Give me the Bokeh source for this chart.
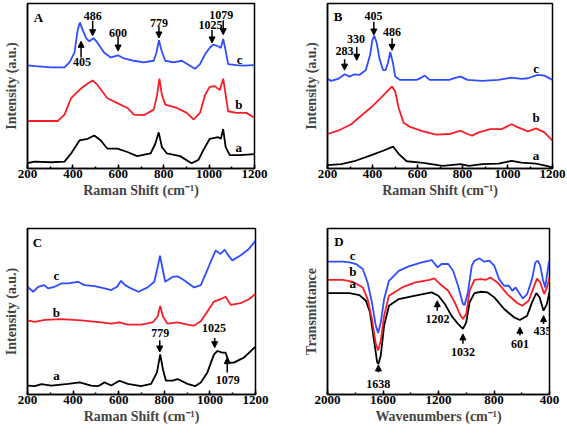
from bokeh.plotting import figure
from bokeh.layouts import column, row
from bokeh.models import Range1d, SingleIntervalTicker, FixedTicker, Arrow, NormalHead
from bokeh.core.properties import value
from bokeh.embed import file_html
from bokeh.resources import INLINE

BLUE = "#2f4cff"
RED = "#f81e28"
BLACK = "#000000"
FONT = "Liberation Serif"

# ---------------- Panel A (Raman) ----------------
A_c_x = [200, 232, 305, 363, 385, 407, 421, 431, 443, 458, 472, 491, 509, 538, 567, 599, 625, 669, 712, 756, 768, 779, 791, 807, 843, 880, 916, 938, 960, 982, 1003, 1018, 1040, 1052, 1062, 1072, 1084, 1120, 1149, 1200]
A_c_y = [0.625, 0.62, 0.613, 0.613, 0.643, 0.702, 0.84, 0.884, 0.84, 0.79, 0.771, 0.79, 0.761, 0.702, 0.673, 0.686, 0.667, 0.653, 0.643, 0.653, 0.702, 0.777, 0.712, 0.653, 0.643, 0.653, 0.623, 0.604, 0.633, 0.692, 0.732, 0.751, 0.741, 0.731, 0.785, 0.72, 0.633, 0.627, 0.623, 0.627]
A_b_x = [200, 305, 334, 363, 392, 436, 465, 487, 509, 552, 596, 640, 669, 712, 756, 771, 781, 792, 807, 858, 902, 931, 960, 982, 1003, 1025, 1047, 1062, 1073, 1084, 1120, 1164, 1200]
A_b_y = [0.288, 0.288, 0.288, 0.327, 0.426, 0.485, 0.515, 0.534, 0.505, 0.426, 0.396, 0.367, 0.327, 0.323, 0.357, 0.446, 0.544, 0.446, 0.387, 0.367, 0.337, 0.298, 0.337, 0.446, 0.495, 0.499, 0.475, 0.544, 0.446, 0.347, 0.337, 0.337, 0.308]
A_a_x = [200, 232, 305, 363, 392, 429, 465, 494, 523, 552, 596, 640, 683, 742, 763, 778, 792, 814, 872, 923, 953, 974, 1003, 1040, 1052, 1062, 1073, 1091, 1134, 1200]
A_a_y = [0.032, 0.042, 0.038, 0.042, 0.091, 0.17, 0.18, 0.2, 0.17, 0.12, 0.12, 0.1, 0.075, 0.091, 0.150, 0.219, 0.130, 0.091, 0.075, 0.032, 0.052, 0.11, 0.18, 0.19, 0.180, 0.239, 0.130, 0.081, 0.081, 0.087]
A_lab_text = ["486", "600", "779", "1025", "1079", "405"]
A_lab_x = [487, 599, 779, 1006, 1054, 440]
A_lab_y = [0.923, 0.824, 0.884, 0.870, 0.929, 0.647]
A_arr_x = [487, 599, 779, 1013, 1062, 436]
A_arr_y0 = [0.895, 0.797, 0.860, 0.840, 0.899, 0.673]
A_arr_y1 = [0.805, 0.712, 0.791, 0.761, 0.811, 0.771]
A_cur_text = ["c", "b", "a"]
A_cur_x = [1134, 1131, 1131]
A_cur_y = [0.663, 0.39, 0.13]

# ---------------- Panel B (Raman) ----------------
B_c_x = [200, 217, 247, 276, 298, 319, 341, 370, 389, 399, 408, 418, 431, 447, 458, 468, 479, 490, 501, 523, 596, 618, 632, 654, 741, 771, 792, 822, 887, 960, 1018, 1062, 1091, 1134, 1164, 1200]
B_c_y = [0.543, 0.531, 0.543, 0.571, 0.557, 0.571, 0.567, 0.596, 0.686, 0.775, 0.805, 0.765, 0.666, 0.596, 0.596, 0.636, 0.706, 0.646, 0.557, 0.537, 0.537, 0.551, 0.563, 0.537, 0.537, 0.551, 0.557, 0.537, 0.531, 0.537, 0.551, 0.543, 0.547, 0.567, 0.563, 0.537]
B_b_x = [200, 247, 305, 348, 392, 436, 465, 487, 501, 516, 538, 567, 625, 683, 741, 792, 822, 843, 872, 923, 974, 1018, 1047, 1091, 1127, 1164, 1200]
B_b_y = [0.209, 0.229, 0.268, 0.318, 0.368, 0.427, 0.467, 0.497, 0.467, 0.368, 0.278, 0.252, 0.225, 0.205, 0.209, 0.229, 0.209, 0.199, 0.219, 0.239, 0.239, 0.268, 0.249, 0.225, 0.243, 0.219, 0.169]
B_a_x = [200, 261, 319, 392, 450, 491, 516, 552, 625, 712, 792, 829, 887, 960, 1018, 1062, 1127, 1178, 1200]
B_a_y = [0.02, 0.026, 0.044, 0.08, 0.109, 0.133, 0.089, 0.044, 0.034, 0.016, 0.026, 0.016, 0.026, 0.030, 0.046, 0.036, 0.030, 0.014, 0.006]
B_lab_text = ["405", "486", "330", "283"]
B_lab_x = [404, 487, 327, 276]
B_lab_y = [0.924, 0.829, 0.785, 0.71]
B_arr_x = [406, 487, 330, 276]
B_arr_y0 = [0.889, 0.789, 0.736, 0.662]
B_arr_y1 = [0.809, 0.716, 0.656, 0.596]
B_cur_text = ["c", "b", "a"]
B_cur_x = [1127, 1127, 1127]
B_cur_y = [0.606, 0.308, 0.08]

# ---------------- Panel C (Raman) ----------------
C_c_x = [200, 225, 247, 273, 290, 319, 348, 378, 421, 450, 494, 538, 567, 593, 610, 628, 654, 686, 727, 756, 771, 781, 791, 804, 836, 858, 887, 931, 960, 982, 1003, 1025, 1047, 1065, 1076, 1098, 1134, 1171, 1200]
C_c_y = [0.649, 0.619, 0.649, 0.659, 0.639, 0.649, 0.669, 0.669, 0.679, 0.659, 0.653, 0.639, 0.629, 0.649, 0.685, 0.659, 0.639, 0.619, 0.645, 0.679, 0.768, 0.837, 0.768, 0.679, 0.708, 0.712, 0.688, 0.645, 0.659, 0.728, 0.798, 0.867, 0.847, 0.873, 0.847, 0.808, 0.837, 0.877, 0.927]
C_b_x = [200, 232, 276, 348, 436, 523, 567, 603, 640, 698, 749, 771, 782, 794, 814, 858, 902, 931, 960, 989, 1018, 1047, 1069, 1091, 1134, 1171, 1200]
C_b_y = [0.446, 0.438, 0.45, 0.454, 0.446, 0.435, 0.427, 0.435, 0.421, 0.421, 0.435, 0.470, 0.534, 0.470, 0.427, 0.435, 0.421, 0.415, 0.441, 0.5, 0.56, 0.574, 0.589, 0.54, 0.550, 0.574, 0.605]
C_a_x = [200, 232, 261, 305, 378, 429, 479, 509, 538, 567, 603, 640, 698, 742, 768, 782, 794, 807, 836, 858, 902, 935, 960, 989, 1018, 1033, 1054, 1069, 1084, 1105, 1149, 1200]
C_a_y = [0.054, 0.050, 0.062, 0.054, 0.064, 0.073, 0.054, 0.050, 0.073, 0.054, 0.083, 0.064, 0.050, 0.064, 0.133, 0.242, 0.152, 0.083, 0.083, 0.093, 0.064, 0.050, 0.073, 0.133, 0.242, 0.262, 0.252, 0.252, 0.192, 0.192, 0.222, 0.288]
C_lab_text = ["779", "1025", "1079"]
C_lab_x = [782, 1018, 1078]
C_lab_y = [0.371, 0.401, 0.087]
C_arr_x = [780, 1021, 1076]
C_arr_y0 = [0.327, 0.341, 0.133]
C_arr_y1 = [0.256, 0.282, 0.222]
C_cur_text = ["c", "b", "a"]
C_cur_x = [327, 327, 327]
C_cur_y = [0.718, 0.494, 0.113]

# ---------------- Panel D (FTIR) ----------------
D_c_x = [2000, 1889, 1841, 1794, 1746, 1711, 1680, 1652, 1635, 1616, 1592, 1557, 1486, 1415, 1320, 1249, 1206, 1178, 1130, 1095, 1059, 1024, 1012, 988, 960, 941, 905, 870, 834, 798, 763, 727, 692, 668, 644, 621, 592, 561, 526, 502, 485, 467, 448, 431, 419, 405, 400]
D_c_y = [0.8, 0.8, 0.796, 0.786, 0.756, 0.675, 0.555, 0.415, 0.371, 0.435, 0.575, 0.685, 0.745, 0.772, 0.796, 0.81, 0.766, 0.786, 0.786, 0.746, 0.655, 0.545, 0.539, 0.615, 0.776, 0.806, 0.82, 0.8, 0.806, 0.776, 0.695, 0.655, 0.655, 0.625, 0.645, 0.615, 0.579, 0.605, 0.695, 0.796, 0.806, 0.776, 0.695, 0.645, 0.715, 0.796, 0.806]
D_b_x = [2000, 1889, 1818, 1746, 1711, 1680, 1652, 1635, 1616, 1592, 1557, 1462, 1367, 1272, 1230, 1201, 1130, 1083, 1047, 1024, 1000, 976, 941, 893, 857, 827, 775, 704, 633, 597, 550, 514, 490, 467, 438, 419, 400]
D_b_y = [0.691, 0.691, 0.679, 0.645, 0.575, 0.455, 0.305, 0.265, 0.325, 0.475, 0.595, 0.645, 0.675, 0.689, 0.699, 0.675, 0.625, 0.555, 0.485, 0.455, 0.485, 0.625, 0.691, 0.695, 0.691, 0.705, 0.675, 0.605, 0.551, 0.535, 0.565, 0.645, 0.699, 0.675, 0.605, 0.645, 0.705]
D_a_x = [2000, 1841, 1770, 1723, 1694, 1663, 1642, 1633, 1616, 1592, 1557, 1486, 1367, 1249, 1201, 1154, 1107, 1059, 1024, 1000, 976, 941, 893, 846, 798, 727, 656, 613, 561, 526, 495, 471, 443, 419, 400]
D_a_y = [0.611, 0.611, 0.599, 0.565, 0.495, 0.315, 0.194, 0.184, 0.235, 0.415, 0.535, 0.575, 0.595, 0.615, 0.595, 0.545, 0.475, 0.425, 0.395, 0.435, 0.555, 0.611, 0.619, 0.615, 0.585, 0.515, 0.465, 0.449, 0.475, 0.555, 0.611, 0.585, 0.505, 0.545, 0.619]
D_lab_text = ["1638", "1202", "1032", "601", "435"]
D_lab_x = [1635, 1208, 1024, 613, 450]
D_lab_y = [0.064, 0.455, 0.255, 0.305, 0.385]
D_arr_x = [1633, 1209, 1024, 613, 443]
D_arr_y0 = [0.134, 0.505, 0.305, 0.355, 0.425]
D_arr_y1 = [0.178, 0.565, 0.365, 0.405, 0.475]
D_cur_text = ["c", "b", "a"]
D_cur_x = [1818, 1818, 1818]
D_cur_y = [0.84, 0.739, 0.669]


def make_panel(width, height, x_range, interval, xlabel, ylabel, ml, mr, mt, mb):
    p = figure(width=width, height=height, x_range=x_range, y_range=Range1d(0, 1),
               output_backend="svg", toolbar_location=None,
               min_border_left=ml, min_border_right=mr, min_border_top=mt, min_border_bottom=mb)
    p.grid.visible = False
    p.outline_line_color = "black"
    p.outline_line_width = 1.5
    p.background_fill_color = "white"
    p.border_fill_color = "white"
    xa = p.xaxis[0]
    xa.ticker = SingleIntervalTicker(interval=interval, num_minor_ticks=2)
    xa.major_tick_in = 4
    xa.major_tick_out = 0
    xa.minor_tick_in = 2
    xa.minor_tick_out = 0
    xa.major_tick_line_width = 1.5
    xa.minor_tick_line_width = 1.5
    xa.axis_line_width = 1.5
    xa.major_label_text_font = FONT
    xa.major_label_text_font_style = "bold"
    xa.major_label_text_font_size = "13px"
    xa.major_label_text_color = "black"
    xa.major_label_standoff = 1
    xa.axis_label = xlabel
    xa.axis_label_text_font = FONT
    xa.axis_label_text_font_style = "bold"
    xa.axis_label_text_font_size = "14px"
    xa.axis_label_standoff = 2
    ya = p.yaxis[0]
    ya.ticker = FixedTicker(ticks=[])
    ya.major_tick_line_color = None
    ya.minor_tick_line_color = None
    ya.axis_line_width = 1.5
    ya.axis_label = ylabel
    ya.axis_label_text_font = FONT
    ya.axis_label_text_font_style = "bold"
    ya.axis_label_text_font_size = "14px"
    ya.axis_label_standoff = 9
    return p


def add_curves(p, xs, ys):
    for (x, y), col in zip(zip(xs, ys), [BLACK, RED, BLUE]):
        p.line(x, y, line_color=col, line_width=1.8)


def add_text(p, xs, ys, texts, size, align="center"):
    p.text(x=xs, y=ys, text=texts, text_font=value(FONT), text_font_style="bold",
           text_font_size=size, text_align=align, text_baseline="middle", text_color="black")


def add_arrows(p, xs, y0s, y1s):
    for x, y0, y1 in zip(xs, y0s, y1s):
        p.add_layout(Arrow(end=NormalHead(size=6, fill_color="black", line_color="black", line_width=1),
                           x_start=x, y_start=y0, x_end=x, y_end=y1,
                           line_color="black", line_width=1.5))


raman = "Raman Shift (cm\u207b\u00b9)"
pA = make_panel(300, 216, Range1d(200, 1200), 200, raman, "Intensity (a.u.)", 26, 46, 3, 44)
add_curves(pA, [A_a_x, A_b_x, A_c_x], [A_a_y, A_b_y, A_c_y])
add_text(pA, A_lab_x, A_lab_y, A_lab_text, "12px")
add_arrows(pA, A_arr_x, A_arr_y0, A_arr_y1)
add_text(pA, A_cur_x, A_cur_y, A_cur_text, "13px")
add_text(pA, [248], [0.917], ["A"], "13px")

pB = make_panel(267, 216, Range1d(200, 1200), 200, raman, "Intensity (a.u.)", 24, 15, 1, 48)
add_curves(pB, [B_a_x, B_b_x, B_c_x], [B_a_y, B_b_y, B_c_y])
add_text(pB, B_lab_x, B_lab_y, B_lab_text, "12px")
add_arrows(pB, B_arr_x, B_arr_y0, B_arr_y1)
add_text(pB, B_cur_x, B_cur_y, B_cur_text, "13px")
add_text(pB, [247], [0.924], ["B"], "13px")

pC = make_panel(300, 221, Range1d(200, 1200), 200, raman, "Intensity (a.u.)", 26, 45, 10, 43)
add_curves(pC, [C_a_x, C_b_x, C_c_x], [C_a_y, C_b_y, C_c_y])
add_text(pC, C_lab_x, C_lab_y, C_lab_text, "12px")
add_arrows(pC, C_arr_x, C_arr_y0, C_arr_y1)
add_text(pC, C_cur_x, C_cur_y, C_cur_text, "13px")
add_text(pC, [244], [0.917], ["C"], "13px")

pD = make_panel(267, 221, Range1d(2000, 400), 400, "Wavenumbers (cm\u207b\u00b9)", "Transmittance", 24, 18, 12, 43)
add_curves(pD, [D_a_x, D_b_x, D_c_x], [D_a_y, D_b_y, D_c_y])
add_text(pD, D_lab_x, D_lab_y, D_lab_text, "12px")
add_arrows(pD, D_arr_x, D_arr_y0, D_arr_y1)
add_text(pD, D_cur_x, D_cur_y, D_cur_text, "13px")
add_text(pD, [1917], [0.92], ["D"], "13px")

layout = column(row(pA, pB), row(pC, pD))
open("out.html", "w").write(file_html(layout, INLINE))
